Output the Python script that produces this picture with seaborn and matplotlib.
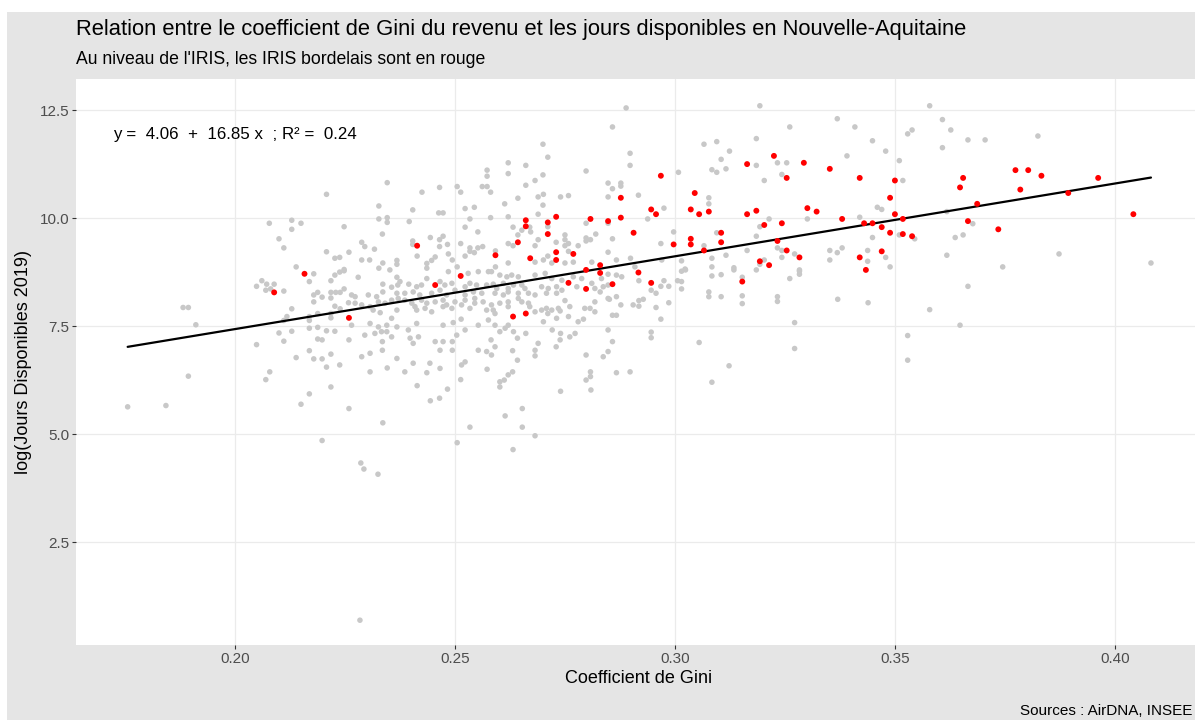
import matplotlib
matplotlib.use("Agg")
import numpy as np
import pandas as pd
import seaborn as sns
import matplotlib.pyplot as plt
import matplotlib.patches as patches

# IRIS hors Bordeaux (gris) : (coefficient de Gini, log jours disponibles)
grey_points = [
    (0.2208, 10.55), (0.2078, 9.88), (0.2129, 9.95), (0.2150, 9.88), (0.2129, 9.74),
    (0.2248, 9.80), (0.2100, 9.52), (0.2111, 9.31), (0.2208, 9.22), (0.2227, 9.07),
    (0.2238, 9.09), (0.2259, 9.21), (0.2139, 8.87), (0.2248, 8.81),
    (0.2179, 8.71), (0.2227, 8.68), (0.2238, 8.75), (0.2248, 8.78), (0.2061, 8.55),
    (0.2072, 8.47), (0.2089, 8.47), (0.2049, 8.42), (0.2070, 8.33), (0.2081, 8.36),
    (0.2111, 8.31), (0.2169, 8.53), (0.2218, 8.55), (0.2179, 8.22), (0.2188, 8.28),
    (0.2198, 8.17), (0.2218, 8.28), (0.2229, 8.28), (0.2239, 8.28), (0.2248, 8.36),
    (0.2265, 8.22), (0.2273, 8.18), (0.2179, 8.06), (0.2218, 8.15), (0.2227, 7.96),
    (0.2239, 7.90), (0.2258, 8.04), (0.2129, 7.90), (0.1882, 7.93), (0.1894, 7.93),
    (0.1911, 7.53), (0.2118, 7.72), (0.2111, 7.63), (0.2169, 7.63), (0.2169, 7.72),
    (0.2188, 7.79), (0.2218, 7.79), (0.2218, 7.69), (0.2265, 7.52), (0.2100, 7.34),
    (0.2129, 7.38), (0.2169, 7.45), (0.2188, 7.47), (0.2208, 7.39), (0.2227, 7.38),
    (0.2111, 7.15), (0.2049, 7.07), (0.2188, 7.20), (0.2198, 7.18), (0.2259, 7.18),
    (0.2169, 6.93), (0.2218, 6.85), (0.2139, 6.77), (0.2179, 6.74), (0.2198, 6.74),
    (0.2238, 6.60), (0.2208, 6.55), (0.2079, 6.44), (0.2070, 6.26), (0.1894, 6.34),
    (0.2218, 6.09), (0.2169, 5.93), (0.2150, 5.69), (0.2259, 5.59), (0.1756, 5.63),
    (0.1843, 5.66), (0.2198, 4.85),
    (0.2280, 8.63), (0.2368, 8.63), (0.2436, 8.60), (0.2485, 8.76), (0.2530, 8.72),
    (0.2553, 8.76), (0.2576, 8.76), (0.2583, 8.76), (0.2602, 8.68), (0.2618, 8.64),
    (0.2629, 8.68), (0.2644, 8.64), (0.2682, 8.68), (0.2705, 8.72), (0.2848, 8.70),
    (0.2867, 8.68), (0.2879, 8.64), (0.2720, 8.60), (0.2743, 8.56), (0.2769, 8.64),
    (0.2788, 8.60), (0.2811, 8.49), (0.2833, 8.60), (0.2848, 8.45), (0.2336, 8.47),
    (0.2356, 8.40), (0.2370, 8.45), (0.2375, 8.53), (0.2395, 8.47), (0.2413, 8.41),
    (0.2424, 8.45), (0.2466, 8.53), (0.2477, 8.45), (0.2493, 8.49), (0.2523, 8.41),
    (0.2534, 8.49), (0.2549, 8.45), (0.2572, 8.45), (0.2587, 8.47), (0.2595, 8.37),
    (0.2610, 8.49), (0.2621, 8.37), (0.2633, 8.45), (0.2652, 8.45), (0.2659, 8.37),
    (0.2697, 8.41), (0.2712, 8.37), (0.2731, 8.41), (0.2743, 8.33), (0.2777, 8.41),
    (0.2818, 8.37), (0.2837, 8.41), (0.2336, 8.29), (0.2368, 8.26), (0.2386, 8.26),
    (0.2405, 8.29), (0.2420, 8.22), (0.2447, 8.26), (0.2466, 8.33), (0.2481, 8.22),
    (0.2500, 8.33), (0.2523, 8.22), (0.2542, 8.29), (0.2561, 8.26), (0.2591, 8.26),
    (0.2610, 8.22), (0.2621, 8.29), (0.2644, 8.26), (0.2667, 8.26), (0.2682, 8.22),
    (0.2708, 8.26), (0.2731, 8.26), (0.2830, 8.29), (0.2848, 8.14), (0.2867, 8.18),
    (0.2303, 8.22), (0.2322, 8.18), (0.2273, 8.03), (0.2288, 7.99), (0.2307, 7.95),
    (0.2326, 8.06), (0.2341, 8.03), (0.2356, 8.10), (0.2371, 8.14), (0.2386, 8.10),
    (0.2402, 8.03), (0.2409, 7.95), (0.2424, 8.10), (0.2436, 8.03), (0.2455, 8.06),
    (0.2473, 8.10), (0.2481, 7.99), (0.2500, 8.06), (0.2523, 8.10), (0.2545, 8.14),
    (0.2545, 8.03), (0.2564, 8.06), (0.2583, 7.99), (0.2602, 8.03), (0.2621, 8.06),
    (0.2621, 7.95), (0.2644, 8.14), (0.2652, 8.06), (0.2667, 8.03), (0.2670, 7.95),
    (0.2750, 8.09), (0.2818, 8.06), (0.2851, 8.12), (0.2877, 7.99), (0.2905, 7.99),
    (0.2314, 7.87), (0.2330, 7.81), (0.2368, 7.87), (0.2413, 7.87), (0.2432, 7.91),
    (0.2447, 7.83), (0.2473, 7.95), (0.2493, 7.91), (0.2515, 7.99), (0.2534, 7.91),
    (0.2572, 7.87), (0.2587, 7.87), (0.2591, 7.79), (0.2682, 7.83), (0.2697, 7.87),
    (0.2708, 7.91), (0.2720, 7.87), (0.2735, 7.91), (0.2711, 7.79), (0.2739, 7.85),
    (0.2761, 7.95), (0.2795, 7.91), (0.2807, 7.91), (0.2818, 7.83), (0.2858, 7.75),
    (0.2867, 7.75), (0.2307, 7.56), (0.2326, 7.48), (0.2345, 7.52), (0.2356, 7.68),
    (0.2368, 7.48), (0.2318, 7.33), (0.2333, 7.37), (0.2345, 7.37), (0.2356, 7.25),
    (0.2295, 7.29), (0.2394, 7.41), (0.2413, 7.56), (0.2473, 7.52), (0.2496, 7.58),
    (0.2514, 7.66), (0.2523, 7.41), (0.2553, 7.52), (0.2576, 7.64), (0.2591, 7.52),
    (0.2602, 7.37), (0.2614, 7.45), (0.2621, 7.52), (0.2633, 7.37), (0.2642, 7.22),
    (0.2661, 7.33), (0.2701, 7.60), (0.2731, 7.68), (0.2758, 7.72), (0.2721, 7.41),
    (0.2740, 7.33), (0.2761, 7.25), (0.2773, 7.33), (0.2780, 7.60), (0.2792, 7.66),
    (0.2848, 7.41), (0.2398, 7.22), (0.2405, 7.10), (0.2417, 7.25), (0.2335, 7.14),
    (0.2335, 6.94), (0.2455, 7.14), (0.2473, 7.14), (0.2494, 7.14), (0.2494, 6.94),
    (0.2466, 6.94), (0.2504, 7.29), (0.2582, 7.18), (0.2591, 7.02), (0.2689, 7.10),
    (0.2682, 6.94), (0.2682, 6.81), (0.2739, 7.18), (0.2730, 7.02), (0.2858, 7.14),
    (0.2848, 6.91), (0.2837, 6.79), (0.2288, 6.79), (0.2307, 6.87), (0.2368, 6.75),
    (0.2405, 6.64), (0.2443, 6.64), (0.2466, 6.52), (0.2515, 6.60), (0.2523, 6.67),
    (0.2553, 6.94), (0.2572, 6.91), (0.2583, 6.83), (0.2631, 6.93), (0.2642, 6.71),
    (0.2307, 6.44), (0.2346, 6.53), (0.2386, 6.44), (0.2436, 6.42), (0.2573, 6.50),
    (0.2602, 6.21), (0.2612, 6.25), (0.2621, 6.37), (0.2631, 6.44), (0.2602, 6.09),
    (0.2798, 6.83), (0.2808, 6.44), (0.2808, 6.33), (0.2798, 6.25), (0.2867, 6.42),
    (0.2898, 6.44), (0.2414, 6.12), (0.2483, 6.04), (0.2513, 6.26), (0.2465, 5.83),
    (0.2444, 5.77), (0.2740, 5.99), (0.2809, 6.02), (0.2336, 5.26), (0.2614, 5.42),
    (0.2653, 5.59), (0.2534, 5.16), (0.2653, 5.16), (0.2682, 4.96), (0.2505, 4.80),
    (0.2632, 4.64), (0.2286, 4.33), (0.2293, 4.19), (0.2325, 4.07), (0.2284, 0.69),
    (0.2889, 12.55), (0.2858, 12.11), (0.2898, 11.50), (0.2898, 11.22), (0.2700, 11.71),
    (0.2711, 11.41), (0.2621, 11.28), (0.2621, 11.03), (0.2661, 11.22), (0.2573, 11.11),
    (0.2573, 10.97), (0.2700, 11.00), (0.2798, 11.09), (0.2346, 10.82), (0.2661, 10.76),
    (0.2682, 10.87), (0.2848, 10.81), (0.2877, 10.81), (0.2877, 10.74), (0.2858, 10.68),
    (0.2425, 10.60), (0.2465, 10.71), (0.2505, 10.73), (0.2513, 10.60), (0.2562, 10.73),
    (0.2573, 10.73), (0.2581, 10.60), (0.2701, 10.55), (0.2689, 10.49), (0.2643, 10.46),
    (0.2740, 10.49), (0.2758, 10.52), (0.2848, 10.49), (0.2700, 10.30), (0.2613, 10.33),
    (0.2327, 10.28), (0.2404, 10.19), (0.2523, 10.22), (0.2544, 10.25), (0.2689, 10.09),
    (0.2621, 10.03), (0.2581, 10.01), (0.2327, 9.98), (0.2346, 10.01), (0.2346, 9.90),
    (0.2396, 9.92), (0.2463, 10.12), (0.2473, 10.12), (0.2534, 9.98), (0.2711, 9.80),
    (0.2848, 9.88), (0.2798, 9.88), (0.2523, 9.79), (0.2552, 9.68), (0.2632, 9.79),
    (0.2643, 9.61), (0.2652, 9.72), (0.2670, 9.79), (0.2672, 9.68), (0.2335, 9.63),
    (0.2288, 9.44), (0.2295, 9.34), (0.2317, 9.28), (0.2404, 9.47), (0.2404, 9.39),
    (0.2414, 9.12), (0.2444, 9.55), (0.2465, 9.50), (0.2473, 9.58), (0.2465, 9.34),
    (0.2483, 9.39), (0.2513, 9.41), (0.2523, 9.12), (0.2534, 9.31), (0.2534, 9.23),
    (0.2544, 9.20), (0.2552, 9.31), (0.2563, 9.34), (0.2592, 9.24), (0.2621, 9.41),
    (0.2632, 9.36), (0.2682, 9.36), (0.2689, 9.50), (0.2730, 9.44), (0.2750, 9.61),
    (0.2750, 9.50), (0.2750, 9.36), (0.2758, 9.41), (0.2758, 9.23), (0.2780, 9.36),
    (0.2798, 9.54), (0.2798, 9.47), (0.2808, 9.50), (0.2820, 9.63), (0.2858, 9.52),
    (0.2848, 9.21), (0.2288, 9.03), (0.2306, 9.03), (0.2336, 8.96), (0.2368, 9.02),
    (0.2368, 8.93), (0.2436, 8.95), (0.2447, 9.02), (0.2455, 9.10), (0.2485, 9.17),
    (0.2494, 9.03), (0.2505, 8.87), (0.2592, 8.87), (0.2621, 8.96), (0.2682, 8.98),
    (0.2701, 9.03), (0.2711, 9.12), (0.2720, 8.96), (0.2750, 8.96), (0.2769, 8.98),
    (0.2811, 8.98), (0.2867, 9.03), (0.2899, 9.07), (0.2327, 8.84), (0.2352, 8.80),
    (0.2436, 8.84),
    (0.3193, 12.60), (0.3369, 12.30), (0.3261, 12.11), (0.3409, 12.11), (0.3449, 11.79),
    (0.3529, 11.95), (0.3539, 12.04), (0.3066, 11.71), (0.3095, 11.77), (0.3185, 11.84),
    (0.3124, 11.55), (0.3105, 11.36), (0.3116, 11.14), (0.3084, 11.12), (0.3095, 11.06),
    (0.3008, 11.06), (0.3391, 11.44), (0.3479, 11.55), (0.3510, 11.33), (0.3518, 10.87),
    (0.3185, 11.22), (0.3233, 11.28), (0.3254, 11.28), (0.3243, 11.01), (0.3203, 10.87),
    (0.2917, 10.53), (0.3077, 10.47), (0.3077, 10.33), (0.2938, 9.98), (0.2975, 10.23),
    (0.3214, 9.98), (0.3301, 9.98), (0.3420, 10.02), (0.3460, 10.25), (0.3470, 10.20),
    (0.3193, 9.80), (0.3185, 9.58), (0.2997, 9.68), (0.3095, 9.66), (0.2968, 9.41),
    (0.3066, 9.36), (0.3233, 9.31), (0.3243, 9.25), (0.3164, 9.25), (0.3116, 9.14),
    (0.3272, 9.17), (0.3352, 9.25), (0.3369, 9.20), (0.3380, 9.31), (0.3438, 9.25),
    (0.3438, 9.00), (0.3449, 9.55), (0.3510, 9.61), (0.3479, 9.09), (0.3489, 8.87),
    (0.3203, 9.03), (0.3193, 8.93), (0.3084, 9.07), (0.3084, 8.87), (0.3134, 8.85),
    (0.3015, 9.01), (0.3023, 8.82), (0.2970, 9.03), (0.3283, 8.80), (0.3352, 9.03),
    (0.3243, 9.09), (0.2909, 8.87),
    (0.2918, 8.55), (0.2946, 8.33), (0.2957, 8.26), (0.2968, 8.42), (0.2975, 8.55),
    (0.2986, 8.42), (0.3006, 8.55), (0.3015, 8.53), (0.3015, 8.36), (0.3015, 8.77),
    (0.3024, 8.80), (0.3084, 8.66), (0.3105, 8.69), (0.3077, 8.29), (0.3077, 8.18),
    (0.3105, 8.18), (0.3153, 8.63), (0.3153, 8.20), (0.3153, 8.02), (0.3134, 8.80),
    (0.3185, 8.80), (0.3233, 8.18), (0.3233, 8.07), (0.3261, 8.60), (0.3283, 8.77),
    (0.3283, 8.70), (0.3370, 8.12), (0.3439, 8.04), (0.2918, 8.09), (0.2928, 8.12),
    (0.2918, 7.96), (0.2957, 7.93), (0.2986, 8.04), (0.2968, 7.66), (0.3272, 7.58),
    (0.2946, 7.36), (0.2946, 7.23), (0.3055, 7.12), (0.3272, 6.98), (0.3123, 6.58),
    (0.3084, 6.20), (0.3529, 7.28), (0.3529, 6.71),
    (0.3579, 12.60), (0.3608, 12.28), (0.3627, 12.04), (0.3608, 11.63), (0.3666, 11.81),
    (0.3705, 11.81), (0.3825, 11.90), (0.3618, 10.15), (0.3677, 9.87), (0.3637, 9.55),
    (0.3655, 9.61), (0.3545, 9.52), (0.3618, 9.14), (0.3873, 9.17), (0.3745, 8.87),
    (0.4082, 8.96), (0.3666, 8.42), (0.3579, 7.88), (0.3648, 7.52),
]

# IRIS bordelais (rouge)
red_points = [
    (0.2158, 8.71), (0.2089, 8.28), (0.2259, 7.69), (0.2455, 8.45), (0.2513, 8.66),
    (0.2798, 8.80), (0.2830, 8.73), (0.2758, 8.50), (0.2798, 8.36), (0.2858, 8.47),
    (0.2632, 7.72), (0.2661, 7.79), (0.2877, 10.47), (0.2661, 9.95), (0.2661, 9.81),
    (0.2711, 9.90), (0.2711, 9.63), (0.2730, 10.03), (0.2808, 9.98), (0.2848, 9.93),
    (0.2877, 10.01), (0.2906, 9.66), (0.2592, 9.14), (0.2643, 9.44), (0.2730, 9.21),
    (0.2730, 9.03), (0.2769, 9.17), (0.2671, 9.07), (0.2414, 9.36), (0.2830, 8.91),
    (0.3225, 11.44), (0.3164, 11.25), (0.3293, 11.28), (0.3352, 11.14), (0.3254, 10.93),
    (0.3420, 10.93), (0.3500, 10.87), (0.2968, 10.98), (0.3045, 10.58), (0.2946, 10.20),
    (0.2957, 10.09), (0.3036, 10.20), (0.3055, 10.09), (0.3077, 10.15), (0.3164, 10.09),
    (0.3185, 10.17), (0.3301, 10.23), (0.3322, 10.15), (0.3380, 9.98), (0.3489, 10.47),
    (0.3500, 10.09), (0.3518, 9.98), (0.3203, 9.84), (0.3243, 9.88), (0.3105, 9.66),
    (0.3105, 9.44), (0.3036, 9.52), (0.3036, 9.39), (0.2997, 9.39), (0.3066, 9.25),
    (0.3233, 9.47), (0.3254, 9.25), (0.3283, 9.09), (0.3420, 9.09), (0.3430, 9.88),
    (0.3449, 9.88), (0.3470, 9.79), (0.3489, 9.66), (0.3518, 9.63), (0.3539, 9.58),
    (0.3470, 9.23), (0.3193, 9.00), (0.3214, 8.91), (0.3434, 8.80), (0.2917, 8.74),
    (0.2946, 8.50), (0.3153, 8.53), (0.3774, 11.11), (0.3803, 11.11), (0.3833, 10.98),
    (0.3655, 10.93), (0.3648, 10.71), (0.3785, 10.66), (0.3962, 10.93), (0.3894, 10.58),
    (0.3687, 10.33), (0.3666, 9.93), (0.3735, 9.74), (0.4042, 10.09),
]

# droite de regression affichee sur le graphique
intercept = 4.06
slope = 16.85
r2 = 0.24

x_ticks = [0.20, 0.25, 0.30, 0.35, 0.40]
y_ticks = [2.5, 5.0, 7.5, 10.0, 12.5]

title = "Relation entre le coefficient de Gini du revenu et les jours disponibles en Nouvelle-Aquitaine"
subtitle = "Au niveau de l'IRIS, les IRIS bordelais sont en rouge"
caption = "Sources : AirDNA, INSEE"


def build_data():
    grey = pd.DataFrame(grey_points, columns=["gini", "jours"])
    red = pd.DataFrame(red_points, columns=["gini", "jours"])
    all_x = pd.concat([grey["gini"], red["gini"]])
    line = pd.DataFrame({"gini": [all_x.min(), all_x.max()]})
    line["jours"] = intercept + slope * line["gini"]
    return grey, red, line


def visualize(grey, red, line):
    sns.set_theme(style="white")
    plt.rcParams["font.family"] = ["Liberation Sans", "DejaVu Sans"]

    W, H = 1195, 720
    fig = plt.figure(figsize=(W / 100, H / 100), dpi=100, facecolor="white")
    # fond gris du graphique (petite marge blanche en haut et a gauche)
    fig.patches.append(patches.Rectangle((7 / W, 0), 1, 1 - 12 / H,
                                         transform=fig.transFigure,
                                         facecolor="#e5e5e5", edgecolor="none",
                                         zorder=-10))

    left, right, top, bottom = 76, 1202, 79, 645
    ax = fig.add_axes([left / W, 1 - bottom / H, (right - left) / W, (bottom - top) / H])
    ax.set_facecolor("white")

    sns.scatterplot(data=grey, x="gini", y="jours", color="#c8c8c8", s=16,
                    edgecolor="none", linewidth=0, ax=ax, zorder=3)
    sns.lineplot(data=line, x="gini", y="jours", color="black", linewidth=1.6,
                 ax=ax, zorder=4)
    sns.scatterplot(data=red, x="gini", y="jours", color="#ff0000", s=18,
                    edgecolor="none", linewidth=0, ax=ax, zorder=5)

    ax.set_xlim(0.16386, 0.4198)
    ax.set_ylim(0.116, 13.22)
    ax.set_xticks(x_ticks)
    ax.set_xticklabels([f"{v:.2f}" for v in x_ticks])
    ax.set_yticks(y_ticks)
    ax.set_yticklabels([f"{v:.1f}" for v in y_ticks])
    ax.grid(True, color="#ebebeb", linewidth=0.9, zorder=0)
    ax.set_axisbelow(True)
    for sp in ax.spines.values():
        sp.set_visible(False)
    ax.tick_params(axis="both", length=3, width=0.8, color="#333333",
                   labelsize=11, labelcolor="#4d4d4d", pad=2, left=True, bottom=True)

    ax.set_xlabel("Coefficient de Gini", fontsize=13, color="black", labelpad=3)
    ax.set_ylabel("log(Jours Disponibles 2019)", fontsize=13, color="black", labelpad=5)

    ax.text(0.1723, 11.94,
            f"y =  {intercept:.2f}  +  {slope:.2f} x  ; R² =  {r2:.2f}",
            fontsize=12.2, color="black", ha="left", va="center", zorder=6)

    fig.text(76 / W, 1 - 30 / H, title, fontsize=15.8, color="black",
             ha="left", va="center")
    fig.text(76 / W, 1 - 60 / H, subtitle, fontsize=12.7, color="black",
             ha="left", va="center")
    # la source reste entierement visible, calee contre le bord droit
    fig.text(1192 / W, 1 - 711 / H, caption, fontsize=11, color="black",
             ha="right", va="center")

    fig.savefig("out.png", dpi=100, facecolor=fig.get_facecolor())


def main():
    grey, red, line = build_data()
    visualize(grey, red, line)


if __name__ == "__main__":
    main()
